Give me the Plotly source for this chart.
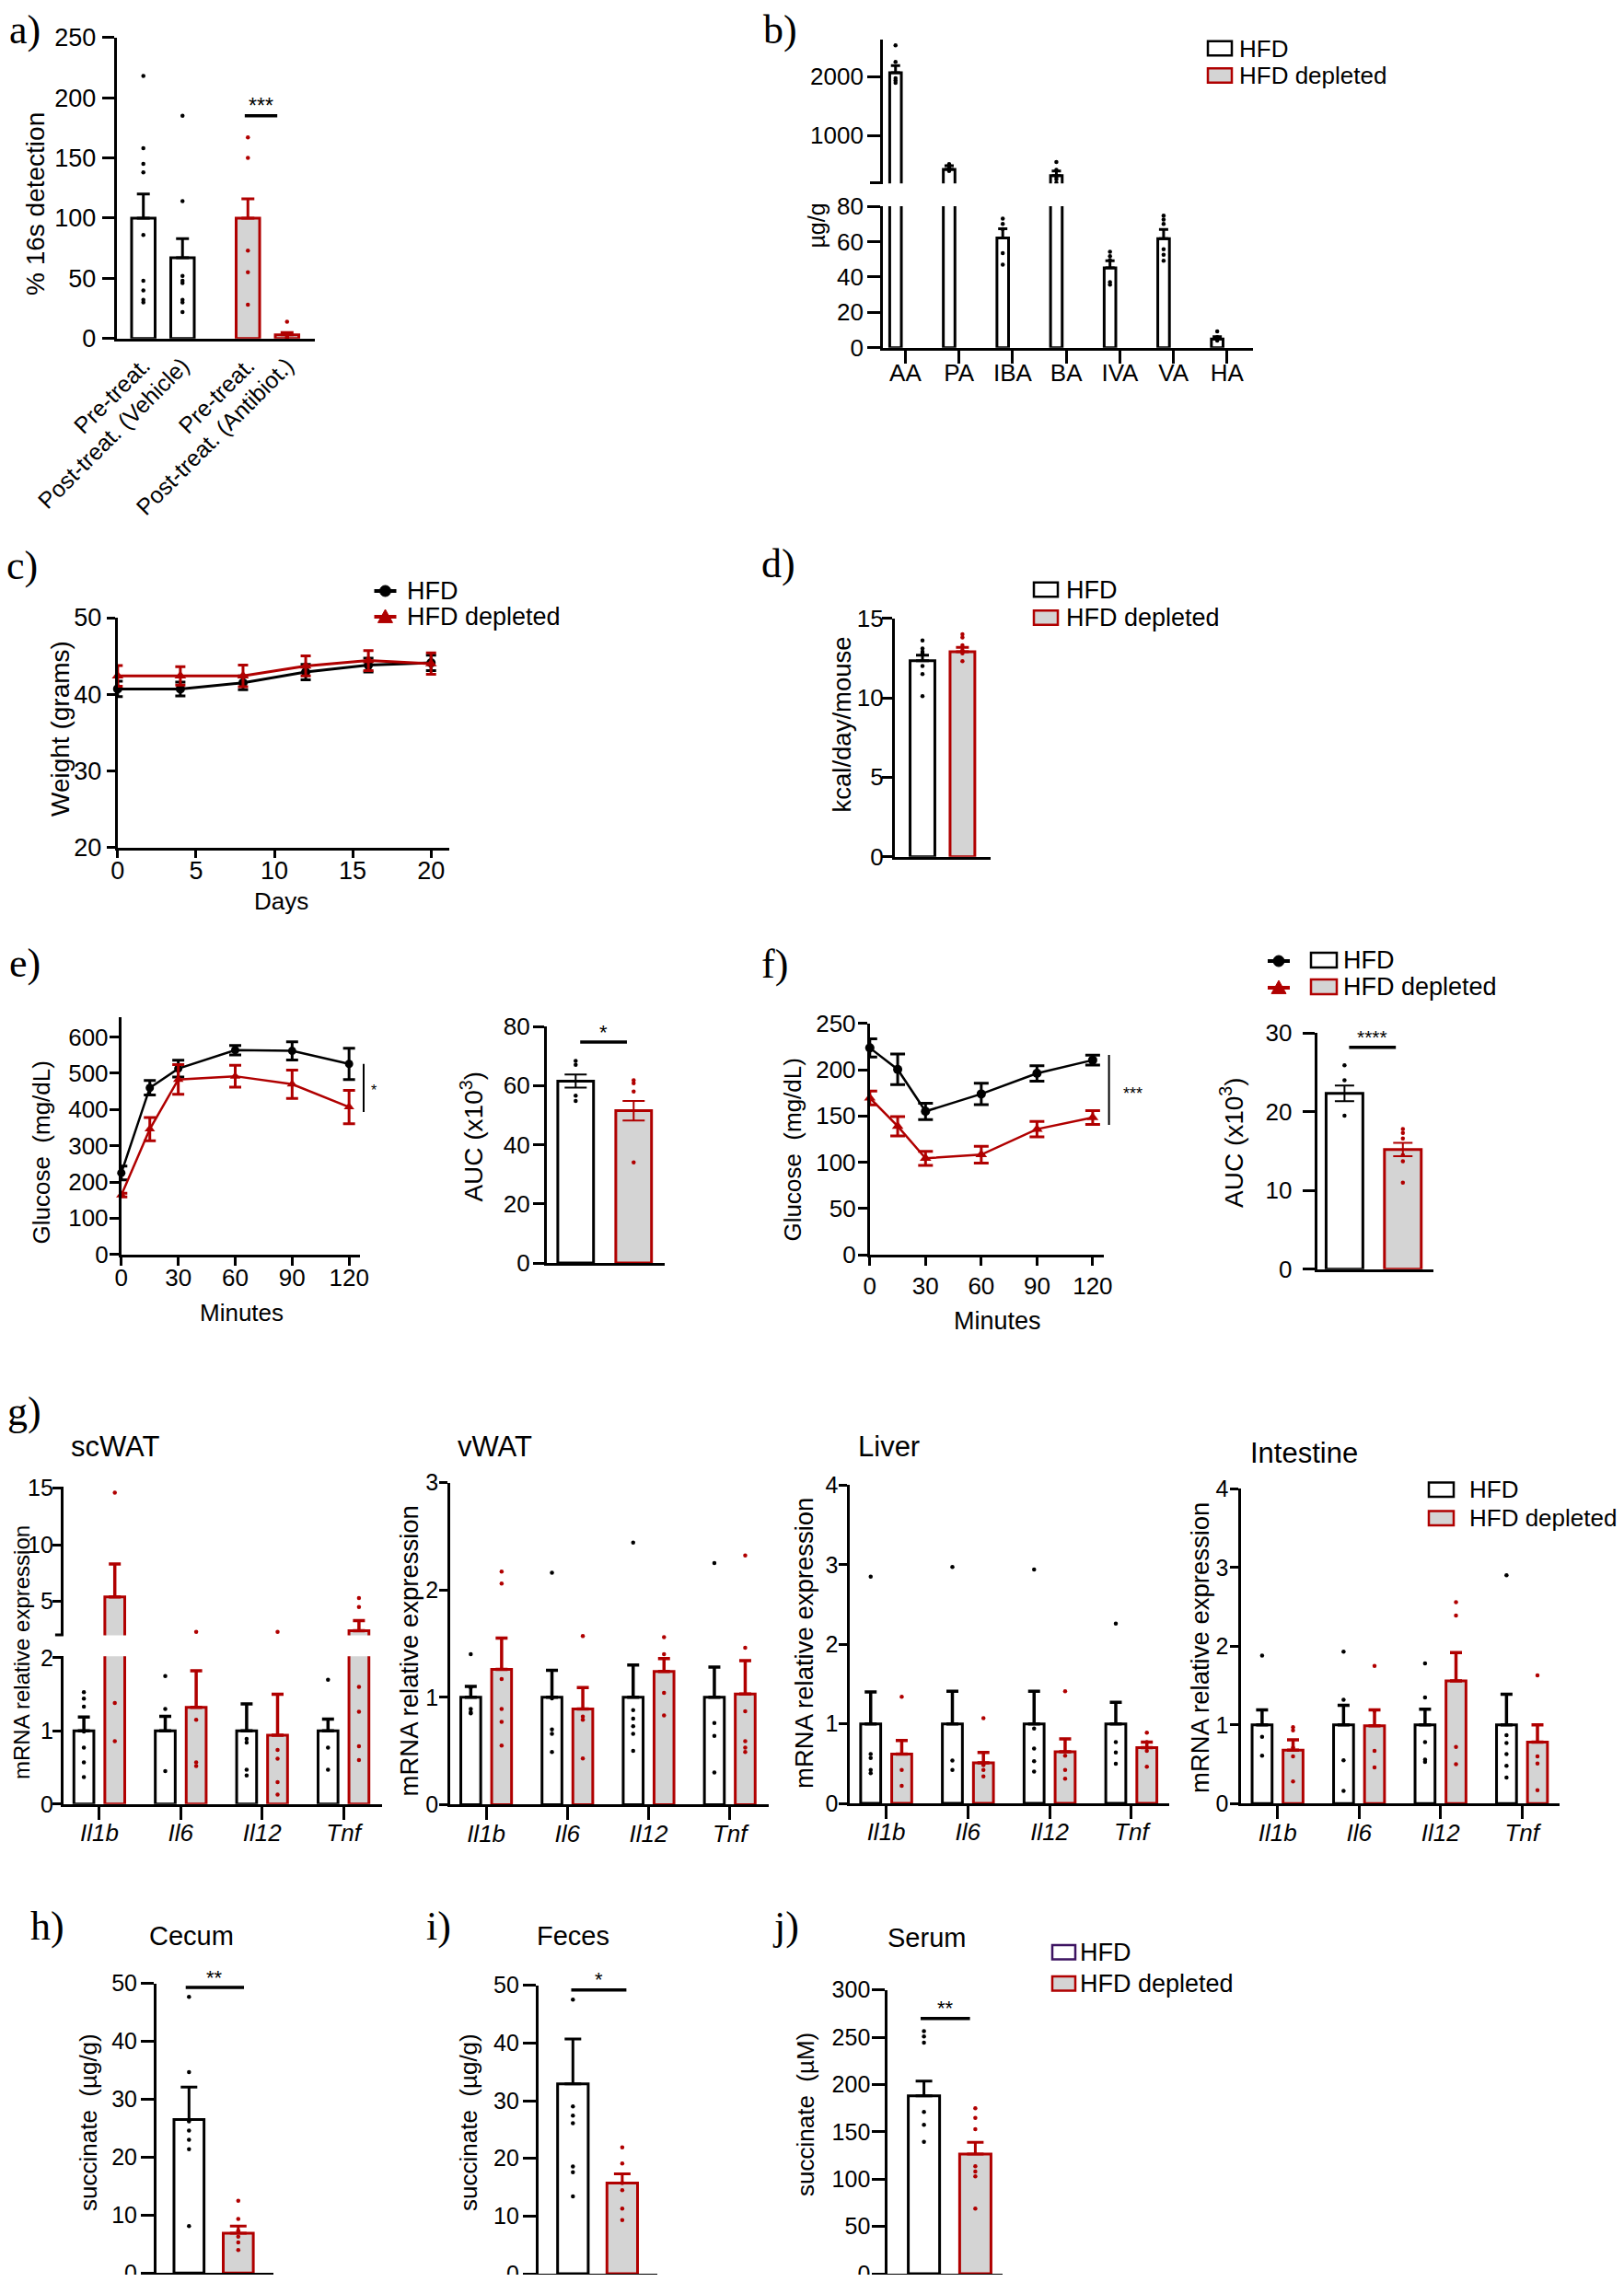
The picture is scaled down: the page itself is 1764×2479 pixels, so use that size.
import plotly.graph_objects as go

# ======================= DATA =======================
# (a) % 16s detection
a_labels = ["Pre-treat.", "Post-treat. (Vehicle)", "Pre-treat.", "Post-treat. (Antibiot.)"]
a_means = [100, 67, 100, 3]
a_sem = [20, 16, 16, 2]
a_points = [[218, 158, 145, 138, 86, 48, 40, 32, 30],
            [185, 114, 52, 48, 46, 32, 30, 22],
            [167, 150, 73, 55, 28],
            [14, 3, 2, 1, 0.5]]

# (b) SCFA ug/g
b_cats = ["AA", "PA", "IBA", "BA", "IVA", "VA", "HA"]
b_means = [2068, 427, 62.1, 323, 45.1, 61.6, 4.9]
b_sem = [122, 63, 5.2, 78, 4.0, 5.2, 1.3]
b_points = [[2531, 2250, 1975, 1935, 1895],
            [516, 480, 450, 400],
            [73, 70, 67, 53.4, 47],
            [552, 420, 300, 260, 200],
            [54.3, 51.7, 49.5, 37, 35.6],
            [74.6, 72.5, 70, 55.7, 52.6, 49.1],
            [9.2, 6.0, 5.7, 4.0]]

# (c) weight
c_days = [0, 4, 8, 12, 16, 20]
c_hfd = [40.7, 40.7, 41.5, 42.9, 43.8, 44.1]
c_hfd_sem = [1.0, 0.9, 0.9, 1.0, 0.9, 1.0]
c_dep = [42.4, 42.4, 42.4, 43.7, 44.4, 44.0]
c_dep_sem = [1.35, 1.2, 1.4, 1.3, 1.3, 1.4]

# (d) food intake
d_means = [12.34, 12.9]
d_sem = [0.34, 0.27]
d_points = [[13.6, 13.1, 12.9, 12.8, 12.0, 11.5, 10.1], [14.0, 13.8, 13.3, 13.0, 12.8, 12.3]]

# (e) GTT
e_time = [0, 15, 30, 60, 90, 120]
e_hfd = [225, 460, 513, 564, 562, 526]
e_hfd_sem = [19, 20, 23, 13, 25, 43]
e_dep = [164, 346, 483, 492, 470, 407]
e_dep_sem = [5, 32, 41, 30, 39, 46]
e_auc = [61.5, 51.5]
e_auc_sem = [2.2, 3.3]
e_auc_points = [[68.3, 67, 56.6, 54.8], [61.8, 60.8, 58, 34]]

# (f) ITT
f_time = [0, 15, 30, 60, 90, 120]
f_hfd = [223.5, 200.3, 155, 173.8, 196, 210.3]
f_hfd_sem = [9.8, 16.5, 8.8, 11.6, 8.3, 5.3]
f_dep = [169.5, 139, 104.3, 108.3, 135.8, 148.3]
f_dep_sem = [7.5, 10.4, 7.6, 9.1, 8.3, 7.5]
f_auc = [22.35, 15.2]
f_auc_sem = [1.0, 0.85]
f_auc_points = [[25.9, 24, 19.5], [17.8, 17.3, 16.6, 14.5, 13.7, 11]]

# (g) mRNA relative expression
genes = ["Il1b", "Il6", "Il12", "Tnf"]
scwat_hfd = [1, 1, 1, 1]
scwat_hfd_sem = [0.19, 0.2, 0.37, 0.16]
scwat_hfd_pts = [[1.53, 1.44, 1.33, 0.99, 0.77, 0.57, 0.37], [1.75, 1.3, 0.45],
                 [0.89, 0.84, 0.47, 0.39], [1.7, 0.77, 0.47]]
scwat_dep = [5.4, 1.32, 0.94, 2.4]
scwat_dep_sem = [2.9, 0.5, 0.56, 0.9]
scwat_dep_pts = [[14.6, 1.38, 0.86], [2.3, 1.15, 0.57, 0.52],
                 [2.3, 0.74, 0.62, 0.3, 0.13], [5.3, 4.5, 1.6, 1.26, 0.79, 0.6]]
vwat_hfd = [1, 1, 1, 1]
vwat_hfd_sem = [0.1, 0.25, 0.3, 0.28]
vwat_hfd_pts = [[1.40, 1.09, 0.89, 0.86, 0.85], [2.16, 0.99, 0.70, 0.66, 0.49],
                [2.44, 0.88, 0.8, 0.73, 0.66, 0.5], [2.25, 0.76, 0.64, 0.3]]
vwat_dep = [1.26, 0.89, 1.24, 1.03]
vwat_dep_sem = [0.29, 0.2, 0.12, 0.31]
vwat_dep_pts = [[2.17, 2.06, 1.17, 0.89, 0.77, 0.55], [1.57, 0.82, 0.79, 0.43],
                [1.56, 1.40, 1.04, 0.83], [2.32, 1.46, 0.87, 0.59, 0.53, 0.49]]
liver_hfd = [1, 1, 1, 1]
liver_hfd_sem = [0.4, 0.41, 0.41, 0.27]
liver_hfd_pts = [[2.85, 0.62, 0.57, 0.42, 0.38], [2.97, 0.54, 0.42],
                 [2.94, 0.94, 0.69, 0.53, 0.40], [2.26, 0.77, 0.64, 0.50]]
liver_dep = [0.62, 0.51, 0.65, 0.70]
liver_dep_sem = [0.17, 0.13, 0.16, 0.07]
liver_dep_pts = [[1.34, 0.42, 0.22], [1.07, 0.48, 0.42, 0.34],
                 [1.41, 0.60, 0.42, 0.31], [0.89, 0.77, 0.66, 0.46]]
intest_hfd = [1, 1, 1, 1]
intest_hfd_sem = [0.19, 0.25, 0.2, 0.39]
intest_hfd_pts = [[1.88, 0.85, 0.61], [1.93, 1.32, 0.55, 0.16],
                  [1.78, 1.35, 0.78, 0.56, 0.53], [2.9, 0.87, 0.77, 0.63, 0.48, 0.33]]
intest_dep = [0.68, 0.99, 1.56, 0.78]
intest_dep_sem = [0.13, 0.2, 0.36, 0.22]
intest_dep_pts = [[0.97, 0.93, 0.71, 0.60, 0.28], [1.75, 1.18, 0.67, 0.46],
                  [2.56, 2.39, 0.72, 0.50], [1.63, 0.60, 0.51, 0.17]]

# (h, i, j) succinate
h_means = [26.5, 6.9]
h_sem = [5.6, 1.2]
h_points = [[47.7, 34.7, 26.2, 24.6, 23, 21.4, 8.1], [12.5, 9.35, 7.3, 6.3, 5.3, 4.0]]
i_means = [32.9, 15.7]
i_sem = [7.8, 1.6]
i_points = [[47.5, 29, 27.4, 26.1, 18.6, 17.6, 13.4], [21.9, 19.1, 15.7, 14.5, 11.3, 9.3]]
j_means = [188, 126.5]
j_sem = [15.6, 12.3]
j_points = [[256.5, 250.7, 244.2, 171, 157.3, 139.4], [175, 164.8, 152.8, 113.5, 108, 103, 68.8]]

# ======================= LAYOUT HELPERS =======================
W, H = 1764, 2479
OFF = 8  # default page margin of the html body
FW, FH = W - 2 * OFF, H - 2 * OFF


def X(px):
    return (px - OFF) / FW


def Y(py):
    return 1 - (py - OFF) / FH


RED = "#b00000"
GRAY = "#d4d4d4"
FONT = "Liberation Sans, Arial, sans-serif"
SERIF = "Liberation Serif, Times New Roman, serif"

fig = go.Figure()
_n = [0]
AXB = dict(showline=True, linecolor="black", linewidth=3, ticks="outside", tickcolor="black",
           tickwidth=3, ticklen=10, showgrid=False, zeroline=False, fixedrange=True,
           automargin=False, tickangle=0, ticklabelstandoff=0, ticklabeloverflow="allow")


def tf(size, fam=FONT):
    return dict(family=fam, size=size, color="black")


def axes(x0, x1, ytop, ybot, xr, yr, xkw=None, ykw=None):
    _n[0] += 1
    s = "" if _n[0] == 1 else str(_n[0])
    xa = dict(AXB)
    xa.update(domain=[X(x0), X(x1)], range=xr, anchor="y" + s)
    ya = dict(AXB)
    ya.update(domain=[Y(ybot), Y(ytop)], range=yr, anchor="x" + s)
    if xkw:
        xa.update(xkw)
    if ykw:
        ya.update(ykw)
    fig.update_layout(**{"xaxis" + s: xa, "yaxis" + s: ya})
    return "x" + s, "y" + s


def bar_set(xa, ya, xs, means, sems, width, dep, sym=False, thick=3, capw=6, pts=None,
            ptsize=4.5, lw=3):
    col = RED if dep else "black"
    fill = GRAY if dep else "white"
    err = dict(type="data", array=sems, color=col, thickness=thick, width=capw, visible=True)
    if sym:
        err["symmetric"] = True
    else:
        err.update(symmetric=False, arrayminus=[0] * len(sems))
    fig.add_trace(go.Bar(x=xs, y=means, width=[width] * len(xs), xaxis=xa, yaxis=ya,
                         marker=dict(color=fill, line=dict(color=col, width=lw)),
                         error_y=err, showlegend=False, hoverinfo="skip"))
    if pts is not None:
        px_, py_ = [], []
        for xv, p in zip(xs, pts):
            px_ += [xv] * len(p)
            py_ += list(p)
        fig.add_trace(go.Scatter(x=px_, y=py_, mode="markers", xaxis=xa, yaxis=ya,
                                 marker=dict(color=col, size=ptsize, line=dict(width=0)),
                                 showlegend=False, hoverinfo="skip"))


def line_set(xa, ya, xs, ys, sems, dep, msize=10, capw=5.5, lw=3):
    col = RED if dep else "black"
    fig.add_trace(go.Scatter(x=xs, y=ys, xaxis=xa, yaxis=ya, mode="lines+markers",
                             line=dict(color=col, width=lw),
                             marker=dict(symbol="triangle-up" if dep else "circle",
                                         size=msize + (1 if dep else 0), color=col),
                             error_y=dict(type="data", array=sems, color=col, thickness=3,
                                          width=capw),
                             cliponaxis=False, showlegend=False, hoverinfo="skip"))


def text(s, x, y, size, fam=FONT, angle=0, xanchor="center", yanchor="middle", color="black"):
    fig.add_annotation(text=s, x=X(x), y=Y(y), xref="paper", yref="paper", showarrow=False,
                       textangle=angle, xanchor=xanchor, yanchor=yanchor,
                       font=dict(family=fam, size=size, color=color))


def dtext(s, xa, ya, x, y, size, fam=FONT, yshift=12):
    fig.add_annotation(text=s, x=x, y=y, xref=xa, yref=ya, showarrow=False, yshift=yshift,
                       font=dict(family=fam, size=size, color="black"))


def dline(xa, ya, x0, y0, x1, y1, w=3.5):
    fig.add_shape(type="line", xref=xa, yref=ya, x0=x0, y0=y0, x1=x1, y1=y1,
                  line=dict(color="black", width=w))


def pline(x0, y0, x1, y1, color="black", w=2):
    fig.add_shape(type="line", xref="paper", yref="paper", x0=X(x0), y0=Y(y0), x1=X(x1),
                  y1=Y(y1), line=dict(color=color, width=w))


def prect(x0, y0, x1, y1, line, fill, w=2.5):
    fig.add_shape(type="rect", xref="paper", yref="paper", x0=X(x0), y0=Y(y1), x1=X(x1),
                  y1=Y(y0), line=dict(color=line, width=w), fillcolor=fill)


def pcircle(cx, cy, r, color):
    fig.add_shape(type="circle", xref="paper", yref="paper", x0=X(cx - r), x1=X(cx + r),
                  y0=Y(cy + r), y1=Y(cy - r), line=dict(color=color, width=1), fillcolor=color)


def ptri(cx, cy, r, color):
    path = "M %f %f L %f %f L %f %f Z" % (X(cx - r), Y(cy + r * 0.8), X(cx + r), Y(cy + r * 0.8),
                                          X(cx), Y(cy - r))
    fig.add_shape(type="path", xref="paper", yref="paper", path=path,
                  line=dict(color=color, width=1), fillcolor=color)


def box_legend(x0, x1, y1, y2, bh, tx, size, hfd_line="black"):
    prect(x0, y1 - bh / 2, x1, y1 + bh / 2, hfd_line, "white")
    prect(x0, y2 - bh / 2, x1, y2 + bh / 2, RED, GRAY)
    text("HFD", tx, y1, size, xanchor="left")
    text("HFD depleted", tx, y2, size, xanchor="left")


def sym_legend(cx, y1, y2, half=12):
    pline(cx - half, y1, cx + half, y1, "black", 4)
    pcircle(cx, y1, 6, "black")
    pline(cx - half, y2, cx + half, y2, RED, 4)
    ptri(cx, y2, 8, RED)


# ======================= PANEL a =======================
a_pos = [0, 1, 2.67, 3.67]
xa, ya = axes(126.7, 342, 40.7, 367.7, [-0.682, 4.38], [0, 250],
              xkw=dict(tickvals=a_pos, ticktext=a_labels, tickangle=-45, ticks="",
                       tickfont=tf(25), ticklabelstandoff=2),
              ykw=dict(dtick=50, ticklen=13, tickfont=tf(27), ticklabelstandoff=1))
bar_set(xa, ya, a_pos[:2], a_means[:2], a_sem[:2], 0.6, False, capw=7, pts=a_points[:2])
bar_set(xa, ya, a_pos[2:], a_means[2:], a_sem[2:], 0.6, True, capw=7, pts=a_points[2:])
dline(xa, ya, 2.59, 185, 3.42, 185)
dtext("***", xa, ya, 3.0, 185, 23, yshift=11)
text("% 16s detection", 39, 222, 28, angle=-90)

# ======================= PANEL b =======================
bx = [i - 0.184 for i in range(len(b_cats))]
xa, ya = axes(959.1, 1361.4, 43.3, 199.3, [-0.418, 6.49], [187.5, 2625],
              xkw=dict(visible=False),
              ykw=dict(tickvals=[1000, 2000], ticklen=14, tickfont=tf(26),
                       ticklabelstandoff=-1))
bar_set(xa, ya, bx, b_means, b_sem, 0.217, False, capw=5, pts=b_points)
pline(945, 198.5, 959, 198.5, "black", 3)
xa, ya = axes(959.1, 1361.4, 224, 377.7, [-0.418, 6.49], [0, 80],
              xkw=dict(tickvals=list(range(len(b_cats))), ticktext=b_cats, ticklen=14,
                       tickfont=tf(26), ticklabelstandoff=-12),
              ykw=dict(dtick=20, ticklen=14, tickfont=tf(26), ticklabelstandoff=-1))
bar_set(xa, ya, bx, b_means, b_sem, 0.217, False, capw=5, pts=b_points)
text("µg/g", 886.6, 245, 25, angle=-90)
box_legend(1312, 1338, 52.5, 82, 15.5, 1343.5, 26)

# ======================= PANEL c =======================
xa, ya = axes(127.8, 487.8, 671, 920.7, [0, 21.15], [20, 50],
              xkw=dict(dtick=5, ticklen=8, tickfont=tf(27), ticklabelstandoff=-9),
              ykw=dict(dtick=10, ticklen=9, tickfont=tf(27), ticklabelstandoff=0))
line_set(xa, ya, c_days, c_hfd, c_hfd_sem, False, msize=10, capw=5.5)
line_set(xa, ya, c_days, c_dep, c_dep_sem, True, msize=10, capw=5.5)
text("Days", 305, 979, 26)
text("Weight (grams)", 65, 792, 28, angle=-90)
sym_legend(418.5, 642, 670)
text("HFD", 440, 642, 27, xanchor="left")
text("HFD depleted", 440, 670, 27, xanchor="left")

# ======================= PANEL d =======================
xa, ya = axes(971.8, 1076.4, 671.7, 930.7, [-0.696, 1.714], [0, 15],
              xkw=dict(showticklabels=False, ticks=""),
              ykw=dict(dtick=5, ticklen=11, tickfont=tf(26), ticklabelstandoff=-7))
bar_set(xa, ya, [0], d_means[:1], d_sem[:1], 0.62, False, capw=7, pts=d_points[:1])
bar_set(xa, ya, [1], d_means[1:], d_sem[1:], 0.62, True, capw=7, pts=d_points[1:])
text("kcal/day/mouse", 914, 787.5, 27.5, angle=-90)
box_legend(1123, 1149, 640.5, 671, 15.5, 1155.7, 27)

# ======================= PANEL e =======================
xa, ya = axes(131.8, 390.7, 1105, 1362.7, [0, 125.6], [0, 655],
              xkw=dict(tickvals=[0, 30, 60, 90, 120], ticklen=9, tickfont=tf(26),
                       ticklabelstandoff=-9),
              ykw=dict(dtick=100, ticklen=10, tickfont=tf(26), ticklabelstandoff=-4))
line_set(xa, ya, e_time, e_hfd, e_hfd_sem, False, msize=9, capw=6.5, lw=2.5)
line_set(xa, ya, e_time, e_dep, e_dep_sem, True, msize=9, capw=6.5, lw=2.5)
pline(395, 1155.7, 395, 1208, "black", 2)
text("*", 406, 1184, 16)
text("Minutes", 262, 1426, 26)
text("Glucose\u00a0 (mg/dL)", 45, 1252.5, 26, angle=-90)

xa, ya = axes(593.8, 722.3, 1115, 1372, [-0.5, 1.54], [0, 80],
              xkw=dict(showticklabels=False, ticks=""),
              ykw=dict(dtick=20, ticklen=12, tickfont=tf(26), ticklabelstandoff=-2))
bar_set(xa, ya, [0], e_auc[:1], e_auc_sem[:1], 0.616, False, sym=True, thick=2, capw=12,
        pts=e_auc_points[:1])
bar_set(xa, ya, [1], e_auc[1:], e_auc_sem[1:], 0.616, True, sym=True, thick=2, capw=12,
        pts=e_auc_points[1:])
dline(xa, ya, 0.078, 74.7, 0.884, 74.7)
dtext("*", xa, ya, 0.48, 74.7, 22, yshift=11)
text("AUC (x10<sup>3</sup>)", 512.6, 1235, 28, angle=-90)

# ======================= PANEL f =======================
xa, ya = axes(944.8, 1199.2, 1111.7, 1363.3, [0, 126.1], [0, 250],
              xkw=dict(tickvals=[0, 30, 60, 90, 120], ticklen=9, tickfont=tf(26),
                       ticklabelstandoff=-1),
              ykw=dict(dtick=50, ticklen=10, tickfont=tf(26), ticklabelstandoff=-3))
line_set(xa, ya, f_time, f_hfd, f_hfd_sem, False, msize=10, capw=8, lw=2.5)
line_set(xa, ya, f_time, f_dep, f_dep_sem, True, msize=10, capw=8, lw=2.5)
pline(1204.6, 1146, 1204.6, 1222, "black", 2)
text("***", 1230, 1188, 18)
text("Minutes", 1083.5, 1435, 27)
text("Glucose\u00a0 (mg/dL)", 860, 1249.5, 26, angle=-90)

xa, ya = axes(1430.6, 1556.5, 1122.3, 1378.7, [-0.47, 1.516], [0, 30],
              xkw=dict(showticklabels=False, ticks=""),
              ykw=dict(dtick=10, ticklen=13, tickfont=tf(26), ticklabelstandoff=6))
bar_set(xa, ya, [0], f_auc[:1], f_auc_sem[:1], 0.63, False, sym=True, thick=2, capw=10.5,
        pts=f_auc_points[:1])
bar_set(xa, ya, [1], f_auc[1:], f_auc_sem[1:], 0.63, True, sym=True, thick=2, capw=10.5,
        pts=f_auc_points[1:])
dline(xa, ya, 0.079, 28.2, 0.88, 28.2)
dtext("****", xa, ya, 0.48, 28.2, 21, yshift=11)
text("AUC (x10<sup>3</sup>)", 1338, 1241, 28, angle=-90)
sym_legend(1389, 1044, 1073)
box_legend(1424, 1452, 1043, 1072, 16, 1457.4, 27)

# ======================= PANEL g =======================
g_ticktext = ["<i>%s</i>" % g for g in genes]
tissues = [
    ("scWAT", scwat_hfd, scwat_hfd_sem, scwat_hfd_pts, scwat_dep, scwat_dep_sem, scwat_dep_pts),
    ("vWAT", vwat_hfd, vwat_hfd_sem, vwat_hfd_pts, vwat_dep, vwat_dep_sem, vwat_dep_pts),
    ("Liver", liver_hfd, liver_hfd_sem, liver_hfd_pts, liver_dep, liver_dep_sem, liver_dep_pts),
    ("Intestine", intest_hfd, intest_hfd_sem, intest_hfd_pts, intest_dep, intest_dep_sem,
     intest_dep_pts),
]
# geometry: y-axis px, right end px, first tick px, spacing px, y-label standoff, y boxes
g_geom = [
    (68.9, 414.5, 107.9, 88.4, -6, [(1615, 1776.5, [2, 15.13], [5, 10, 15], True),
                                    (1799.2, 1959.8, [0, 2.02], [0, 1, 2], False)]),
    (489.1, 835.3, 528.1, 88.2, -4, [(1610.5, 1960.4, [0, 3], [0, 1, 2, 3], False)]),
    (923.4, 1270.4, 962.6, 88.75, -4, [(1613.3, 1959.1, [0, 4], [0, 1, 2, 3, 4], False)]),
    (1348.3, 1694, 1387.7, 88.5, -3, [(1617.3, 1959.3, [0, 4], [0, 1, 2, 3, 4], False)]),
]
g_title_pos = [(125, 1572), (537, 1572), (966, 1572), (1416.7, 1579)]
g_ylab = [(23, 1795, 24), (443.5, 1794, 27.5), (873, 1785, 27.5), (1303, 1790, 27.5)]
for (name, hm, hs, hp, dm, ds, dp), (yx, xr_px, t0, sp, so, yboxes), tpos, lab in zip(
        tissues, g_geom, g_title_pos, g_ylab):
    xr = [(yx - t0) / sp, (xr_px - t0) / sp]
    xs_h = [i - 0.19 for i in range(len(genes))]
    xs_d = [i + 0.19 for i in range(len(genes))]
    for (ytop, ybot, yr, tv, upper) in yboxes:
        if upper:
            xkw = dict(visible=False)
            pline(yx - 9, ybot - 0.5, yx, ybot - 0.5, "black", 3)
        else:
            xkw = dict(tickvals=list(range(len(genes))), ticktext=g_ticktext, ticklen=14,
                       tickfont=tf(26), ticklabelstandoff=-8)
        xa, ya = axes(yx, xr_px, ytop, ybot, xr, yr, xkw=xkw,
                      ykw=dict(tickvals=tv, ticklen=9, tickfont=tf(25), ticklabelstandoff=so))
        bar_set(xa, ya, xs_h, hm, hs, 0.245, False, capw=6.5, thick=3.5, pts=hp)
        bar_set(xa, ya, xs_d, dm, ds, 0.245, True, capw=6.5, thick=3.5, pts=dp)
    text(name, tpos[0], tpos[1], 31)
    text("mRNA relative expression", lab[0], lab[1], lab[2], angle=-90)
box_legend(1552, 1579, 1618.3, 1649.2, 15.5, 1594, 26)

# ======================= PANELS h, i, j =======================
hij = [
    ("Cecum", h_means, h_sem, h_points, (170, 296.7, 2154.7, 2469.3), 205.3, 53.5, [0, 50], 10,
     (207.5, 2103), (96, 2306), "succinate\u00a0 (µg/g)", (-0.067, 1.116, 49.3), "**", 0.61, -1),
    ("Feces", i_means, i_sem, i_points, (584.8, 714.3, 2156.7, 2470), 622.3, 53.6, [0, 50], 10,
     (622.8, 2103), (509, 2306), "succinate\u00a0 (µg/g)", (-0.034, 1.084, 49.2), "*", 0.62, -1),
    ("Serum", j_means, j_sem, j_points, (964.3, 1089.3, 2161.7, 2470), 1003.6, 55.8, [0, 300],
     50, (1006.7, 2105), (875, 2297), "succinate\u00a0 (µM)", (-0.065, 0.896, 269.8), "**",
     0.61, -3),
]
for (name, m, s, p, (x0, x1, yt, yb), c0, sp, yr, dt, tpos, lpos, ylab, sig, stars,
     bw, so) in hij:
    xa, ya = axes(x0, x1, yt, yb, [(x0 - c0) / sp, (x1 - c0) / sp], yr,
                  xkw=dict(showticklabels=False, ticks=""),
                  ykw=dict(dtick=dt, ticklen=14, tickfont=tf(25), ticklabelstandoff=so))
    bar_set(xa, ya, [0], m[:1], s[:1], bw, False, capw=9, pts=p[:1])
    bar_set(xa, ya, [1], m[1:], s[1:], bw, True, capw=9, pts=p[1:])
    dline(xa, ya, sig[0], sig[2], sig[1], sig[2])
    dtext(stars, xa, ya, (sig[0] + sig[1]) / 2, sig[2], 22, yshift=11)
    text(name, tpos[0], tpos[1], 29)
    text(ylab, lpos[0], lpos[1], 26, angle=-90)
box_legend(1143, 1168, 2120.8, 2154.7, 15.5, 1171.4, 27, hfd_line="#3c1361")

# ======================= PANEL LETTERS =======================
for lab, (lx, ly) in zip("abcdefghij", [(27, 33), (847, 33), (24, 614), (845, 612), (27, 1046),
                                         (841, 1048), (26, 1533), (51, 2092), (476, 2092),
                                         (853, 2092)]):
    text(lab + ")", lx, ly, 44, SERIF)

fig.update_layout(template="none", width=FW, height=FH, margin=dict(l=0, r=0, t=0, b=0),
                  paper_bgcolor="white", plot_bgcolor="rgba(0,0,0,0)",
                  barmode="overlay", showlegend=False, font=dict(family=FONT, color="black"))
fig.write_html("out.html")
